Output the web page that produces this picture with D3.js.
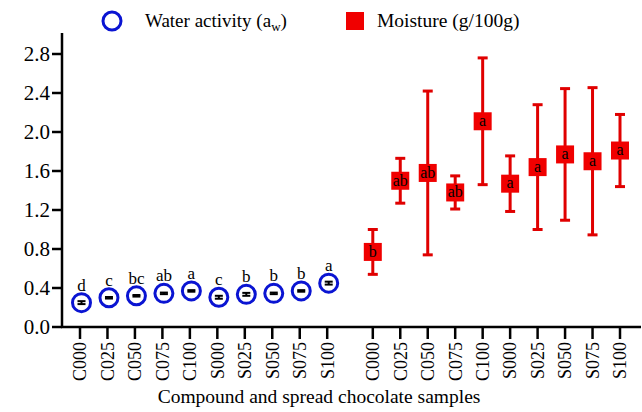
<!DOCTYPE html>
<html>
<head>
<meta charset="utf-8">
<script src="https://cdn.jsdelivr.net/npm/d3@7"></script>
<style>
  body { margin: 0; background: #fff; }
  svg text { font-family: "Liberation Serif", "DejaVu Serif", serif; fill: #000; }
</style>
</head>
<body>
<div id="chart"></div>
<script>
    var width = 642,
        height = 412;

    // sample codes (same for both groups)
    var samples = ["C000", "C025", "C050", "C075", "C100", "S000", "S025", "S050", "S075", "S100"];

    // water activity (aw)
    var awMean    = [0.25, 0.30, 0.32, 0.345, 0.37, 0.305, 0.335, 0.345, 0.37, 0.45];
    var awErr     = [0.015, 0.008, 0.008, 0.008, 0.008, 0.015, 0.015, 0.008, 0.008, 0.015];
    var awLetters = ["d", "c", "bc", "ab", "a", "c", "b", "b", "b", "a"];

    // moisture (g/100g)
    var moistMean    = [0.77, 1.50, 1.58, 1.38, 2.11, 1.47, 1.64, 1.77, 1.70, 1.81];
    var moistErr     = [0.23, 0.23, 0.84, 0.17, 0.65, 0.285, 0.64, 0.675, 0.755, 0.37];
    var moistLetters = ["b", "ab", "ab", "ab", "a", "a", "a", "a", "a", "a"];

    var yTicks = [0, 0.4, 0.8, 1.2, 1.6, 2.0, 2.4, 2.8];

    var groupGap = 10.66; // slot offset of the second group

    var svg = d3.select("#chart")
        .append("svg")
        .attr("width", width)
        .attr("height", height)
        .attr("font-family", "Liberation Serif, serif");

    var x = d3.scaleLinear().domain([0, 9 + groupGap]).range([80, 620]);
    var y = d3.scaleLinear().domain([0, 3.0]).range([327, 34.5]);

    var awData = samples.map(function(s, i) {
        return {name: s, pos: i, mean: awMean[i], err: awErr[i], letter: awLetters[i]};
    });
    var moistData = samples.map(function(s, i) {
        return {name: s, pos: i + groupGap, mean: moistMean[i], err: moistErr[i], letter: moistLetters[i]};
    });
    var allData = awData.concat(moistData);

    // axes
    var axisG = svg.append("g");
    axisG.append("line")
        .attr("x1", 62).attr("x2", 62)
        .attr("y1", y(0) + 1).attr("y2", 33)
        .attr("stroke", "#000").attr("stroke-width", 2.5);
    axisG.append("line")
        .attr("x1", 61).attr("x2", 641)
        .attr("y1", y(0)).attr("y2", y(0))
        .attr("stroke", "#000").attr("stroke-width", 2.5);

    var yt = axisG.selectAll(".ytick")
        .data(yTicks)
        .enter().append("g")
        .attr("class", "ytick")
        .attr("transform", function(d) { return "translate(0," + y(d) + ")"; });
    yt.append("line")
        .attr("x1", 52).attr("x2", 62)
        .attr("stroke", "#000").attr("stroke-width", 2.5);
    yt.append("text")
        .attr("x", 50)
        .attr("dy", "0.35em")
        .attr("text-anchor", "end")
        .style("font-size", "21px")
        .text(function(d) { return d.toFixed(1); });

    var xt = axisG.selectAll(".xtick")
        .data(allData)
        .enter().append("g")
        .attr("class", "xtick")
        .attr("transform", function(d) { return "translate(" + x(d.pos) + "," + y(0) + ")"; });
    xt.append("line")
        .attr("y1", 0).attr("y2", 12)
        .attr("stroke", "#000").attr("stroke-width", 2.5);
    xt.append("text")
        .attr("transform", "translate(0,15) rotate(-90)")
        .attr("dy", "0.35em")
        .attr("text-anchor", "end")
        .style("font-size", "18px")
        .text(function(d) { return d.name; });

    svg.append("text")
        .attr("x", 319)
        .attr("y", 403)
        .attr("text-anchor", "middle")
        .style("font-size", "19.5px")
        .text("Compound and spread chocolate samples");

    // moisture error bars + squares
    var m = svg.selectAll(".moist")
        .data(moistData)
        .enter().append("g")
        .attr("class", "moist");
    m.append("line")
        .attr("x1", function(d) { return x(d.pos); })
        .attr("x2", function(d) { return x(d.pos); })
        .attr("y1", function(d) { return y(d.mean - d.err); })
        .attr("y2", function(d) { return y(d.mean + d.err); })
        .attr("stroke", "#e00000").attr("stroke-width", 3);
    [-1, 1].forEach(function(sgn) {
        m.append("line")
            .attr("x1", function(d) { return x(d.pos) - 5; })
            .attr("x2", function(d) { return x(d.pos) + 5; })
            .attr("y1", function(d) { return y(d.mean + sgn * d.err); })
            .attr("y2", function(d) { return y(d.mean + sgn * d.err); })
            .attr("stroke", "#e00000").attr("stroke-width", 3);
    });
    m.append("rect")
        .attr("x", function(d) { return x(d.pos) - 9; })
        .attr("y", function(d) { return y(d.mean) - 9; })
        .attr("width", 18).attr("height", 18)
        .attr("fill", "#f00000");
    m.append("text")
        .attr("x", function(d) { return x(d.pos); })
        .attr("y", function(d) { return y(d.mean); })
        .attr("dy", "0.3em")
        .attr("text-anchor", "middle")
        .style("font-size", "16px")
        .text(function(d) { return d.letter; });

    // water activity circles + tiny error bars
    var a = svg.selectAll(".aw")
        .data(awData)
        .enter().append("g")
        .attr("class", "aw");
    a.append("circle")
        .attr("cx", function(d) { return x(d.pos) + 1.5; })
        .attr("cy", function(d) { return y(d.mean); })
        .attr("r", 9)
        .attr("fill", "#fff")
        .attr("stroke", "#0a14d2").attr("stroke-width", 3);
    a.append("line")
        .attr("x1", function(d) { return x(d.pos) + 1.5; })
        .attr("x2", function(d) { return x(d.pos) + 1.5; })
        .attr("y1", function(d) { return y(d.mean - d.err); })
        .attr("y2", function(d) { return y(d.mean + d.err); })
        .attr("stroke", "#000").attr("stroke-width", 2);
    [-1, 1].forEach(function(sgn) {
        a.append("line")
            .attr("x1", function(d) { return x(d.pos) - 2.5; })
            .attr("x2", function(d) { return x(d.pos) + 5.5; })
            .attr("y1", function(d) { return y(d.mean + sgn * d.err); })
            .attr("y2", function(d) { return y(d.mean + sgn * d.err); })
            .attr("stroke", "#000").attr("stroke-width", 2);
    });
    a.append("text")
        .attr("x", function(d) { return x(d.pos) + 1.5; })
        .attr("y", function(d) { return y(d.mean) - 12; })
        .attr("text-anchor", "middle")
        .style("font-size", "17px")
        .text(function(d) { return d.letter; });

    // legend
    var leg = svg.append("g");
    leg.append("circle")
        .attr("cx", 112).attr("cy", 21).attr("r", 9)
        .attr("fill", "#fff")
        .attr("stroke", "#0a14d2").attr("stroke-width", 3);
    var t1 = leg.append("text")
        .attr("x", 145).attr("y", 27)
        .style("font-size", "19px");
    t1.append("tspan").text("Water activity (a");
    t1.append("tspan").attr("dy", 4).style("font-size", "13px").text("w");
    t1.append("tspan").attr("dy", -4).text(")");

    leg.append("rect")
        .attr("x", 346).attr("y", 12)
        .attr("width", 18).attr("height", 18)
        .attr("fill", "#f00000");
    leg.append("text")
        .attr("x", 377).attr("y", 27)
        .style("font-size", "19.5px")
        .text("Moisture (g/100g)");
</script>
</body>
</html>
